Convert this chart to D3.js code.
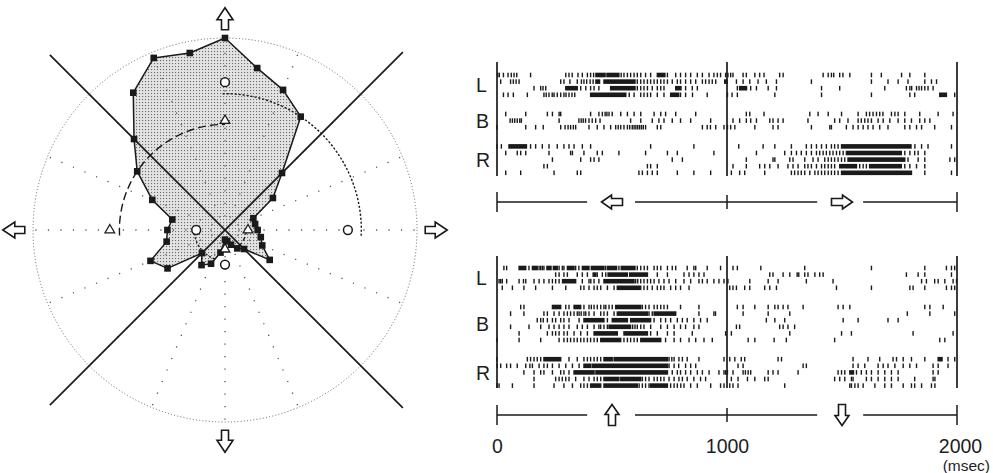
<!DOCTYPE html>
<html>
<head>
<meta charset="utf-8">
<script src="https://cdn.jsdelivr.net/npm/d3@7"></script>
<style>
  html, body { margin: 0; background: #fff; }
  svg { display: block; }
  text { font-family: "Liberation Sans", Arial, sans-serif; fill: #1e1e1e; }
</style>
</head>
<body>
<svg id="fig" width="993" height="473"></svg>
<script>
// ---------- Polar tuning (direction in degrees clockwise from up, normalized response) ----------
const tuningDirections = [0, 11.25, 22.5, 33.75, 45, 56.25, 67.5, 78.75, 90, 101.25, 112.5, 123.75,
  135, 146.25, 157.5, 168.75, 180, 191.25, 202.5, 213.75, 225, 236.25, 247.5, 258.75,
  270, 281.25, 292.5, 303.75, 315, 326.25, 337.5, 348.75];
const tuningResponse = [1.0, 0.86, 0.79, 0.71, 0.42, 0.30, 0.16, 0.16, 0.17, 0.19, 0.21, 0.28,
  0.14, 0.115, 0.083, 0.06, 0.05, 0.12, 0.19, 0.22, 0.17, 0.36, 0.42, 0.31,
  0.30, 0.28, 0.41, 0.55, 0.67, 0.86, 0.97, 0.94];

// four cardinal test directions
const cardinalDirections = [0, 90, 180, 270];
const circleResponse = [0.77, 0.64, 0.18, 0.15];
const triangleResponse = [0.57, 0.12, 0.10, 0.60];

// summary arcs: radius, start and end direction
const arcNames = ["circleMain", "triangleMain", "circleSmall", "triangleSmall"];
const arcRadius = [0.71, 0.55, 0.16, 0.11];
const arcStart = [-1, 267, 200, 92];
const arcEnd = [93, 360, 262, 150];

// boundary lines through the origin
const boundaryDirections = [45, 135];

// ---------- Spike rasters (ms); a pair [a, b] is a dense burst ----------
const timeTicks = [0, 1000, 2000];
const groupNames = ["L", "B", "R"];

const horizL = [
  [3, 10, 28, 48, 62, 74, 86, 146, 299, 313, 327, 352, 371, 393, 407, 420, [430, 470], [478, 530], 540, 552, 567, 581, 596, 610, 625, 646, 668, [697, 730], 741, 777, 798, 820, 842, 871, 893, 922, 943, 958, 972, 994, 1004, 1016, 1026, 1070, 1084, 1121, 1142, 1161, 1229, 1244, 1418, 1440, 1454, 1464, 1490, 1504, 1534, 1628, 1671, 1759, 1795, 1860],
  [16, 59, 71, 83, 96, 277, 291, 317, 349, 367, 378, 390, 405, 418, [430, 446], [465, 600], 610, 625, 639, 654, 668, 683, 697, 712, 726, 741, 762, 784, 798, 820, 842, 864, 893, 907, 922, 936, 951, [990, 1000], 1041, 1070, 1099, 1135, 1171, 1215, 1367, 1628, 1700, 1744, 1787, 1860, 1889, 1911],
  [161, 190, 200, 212, [299, 349], 364, 386, 407, 422, 443, [494, 600], 610, 625, 639, 654, 675, 697, 712, 726, [777, 800], 820, 849, 871, 1045, [1055, 1085], 1103, 1128, 1179, 1215, 1411, 1490, 1686, 1780, 1795, 1803, 1824, 1835, 1846, 1860, 1874, 1896],
  [28, 48, 71, 132, 204, 214, 226, 240, 248, 262, 277, 291, 300, 313, 326, 338, [407, 560], 575, 596, 625, 639, 654, 668, 697, 726, [755, 790], 798, 820, 850, 914, 1002, 1022, 1045, 1208, 1411, 1628, 1795, 1816, [1925, 1954], 1990]
];
const horizB = [
  [38, 125, 219, 241, 270, 277, 407, 443, 458, 470, 478, 487, 501, 538, 567, 596, 625, 683, 712, 733, 777, 864, 1084, 1099, 1161, 1360, 1396, 1440, 1498, 1570, 1606, 1620, 1635, 1650, 1664, 1678, 1715, 1730, 1744, 1773, 1838, 1918, 1983],
  [57, 67, 77, 88, 99, 106, 270, 356, 366, 375, 385, 400, 414, 429, 448, 581, 625, 675, 704, 726, 762, 798, 842, 929, 1026, 1055, 1084, 1103, 1128, 1186, 1200, 1222, 1244, 1352, 1468, 1490, 1526, 1570, 1584, 1599, 1613, 1628, 1657, 1679, 1708, 1744, 1773, 1802, 1838, 1860, 1882],
  [0, 125, 168, 201, 277, 296, 309, 320, 332, 342, 400, 436, 465, 494, 516, 527, 538, 552, 567, 577, 588, 596, 604, 612, 620, 628, 636, 646, 697, 712, 893, 914, 928, 951, 987, 1002, 1016, 1034, 1121, 1200, 1222, 1367, 1447, 1454, 1519, 1548, 1570, 1592, 1613, 1635, 1664, 1700, 1773, 1795, 1824, 1846, 1903, 1976]
];
const horizR = [
  [0, 19, [52, 128], 146, 168, 197, 226, 262, 291, 313, 335, 371, 407, 668, 856, 1051, 1157, 1208, 1280, 1345, 1367, 1389, 1411, 1432, 1454, 1468, 1483, [1498, 1800], 1817, 1846, 1874, 1976],
  [38, 88, 103, 125, 226, 320, 328, 378, 436, 458, 530, 646, 741, 784, 943, 1128, 1251, 1280, 1302, 1323, 1345, 1367, 1389, 1403, 1418, 1432, 1447, 1461, 1476, 1490, 1505, [1519, 1758], 1773, 1795, 1816, 1831, 1860],
  [241, 364, 407, 422, 443, 762, 806, 1084, 1200, 1208, 1273, 1287, 1338, 1374, 1396, 1425, 1440, 1454, 1468, 1483, 1498, 1512, [1526, 1773], 1787, 1831, 1860, 1969, 1990],
  [204, 219, 654, 668, 697, 1026, 1084, 1142, 1164, 1186, 1222, 1265, 1287, 1309, 1338, 1352, 1367, 1389, 1411, 1425, 1440, 1454, 1468, [1490, 1563], 1577, 1592, 1606, [1620, 1758], 1773, 1795, 1824, 1860],
  [38, 103, 248, 349, 364, 617, 632, 654, 675, 697, 784, 856, 929, 1019, 1055, 1077, 1164, 1280, 1294, 1309, 1323, 1338, 1360, 1382, 1396, 1411, 1425, 1440, 1454, 1468, 1483, [1498, 1802], 1860, 1976]
];

const vertL = [
  [30, 42, [96, 125], 139, [154, 175], 183, 190, 197, 204, [217, 235], [245, 262], 270, 284, 291, [306, 335], 342, 356, [371, 400], [410, 465], 472, [480, 520], 530, [540, 600], 610, 625, 640, 654, 683, 697, 712, 741, 762, 777, 827, 856, 864, 914, 972, 1026, 1045, 1147, 1338, 1628, 1860, 1954, 1976, 1990],
  [255, 270, 291, 306, 349, 371, 393, [418, 430], 436, 458, 473, [483, 567], [577, 654], 697, 741, 813, 835, 856, 878, 900, 1186, 1200, 1244, 1273, 1305, 1312, 1338, 1352, 1382, 1403, 1418, 1780, 1831, 1860, 1976],
  [9, 16, 23, 42, 96, 115, 125, 161, 183, 204, 226, 241, 255, 270, [285, 342], 371, 400, 408, 422, 443, [465, 596], 603, 612, 625, 639, 654, 668, 683, 704, 726, 748, 777, 813, 842, 878, 893, 914, 943, 965, 987, 1004, 1099, 1179, 1222, 1345, 1461, 1846, 1867, 1903, 1918, 1947, 1983, 1998],
  [23, 67, 117, 168, 241, 299, 364, 378, 400, 422, 436, 451, 480, 509, [523, 625], 639, 654, 675, 697, 712, 726, 755, 777, 798, 835, 1012, 1026, 1041, 1077, 1099, 1164, 1186, 1215, 1476, 1628, 1795, 1809, 1860, 1954, 1976, 1990]
];
const vertB = [
  [103, 117, [241, 277], 299, 313, [335, 364], 378, 400, 410, 422, 436, 451, 465, 473, 487, 501, [516, 625], 632, 646, 661, 683, 697, 712, 726, 741, 798, 878, 1045, 1070, 1121, 1179, 1208, 1222, 1244, 1265, 1331, 1483, 1505, 1534, 1860, 1882, 1940],
  [59, 117, 204, 219, 248, 270, 291, 306, 320, 335, 349, 357, 366, 378, 386, 400, 422, 451, 465, 480, 509, [523, 654], 661, 675, [683, 777], 878, 943, 950, 1070, 1179, 1273, 1784, 1882, 1990],
  [175, 190, 201, 219, 241, 255, 277, 291, 313, 357, [378, 465], 480, [501, 567], [581, 668], 683, 712, 733, 755, 784, 806, 827, 856, 885, 914, 1171, 1208, 1251, 1505, 1570, 1700, 1744],
  [59, 139, 190, 226, 248, 270, 291, 313, 349, 371, 393, 422, 443, 451, 465, 480, [487, 581], 590, 600, 610, 625, 639, 668, 712, 741, 770, 798, 820, 856, 878, 1041, 1055, 1229, 1244, 1265, 1294],
  [96, 219, 241, 255, 270, 291, 306, 335, 364, 393, [422, 523], [552, 654], 668, 697, 741, 770, 849, 994, 1019, 1273, 1498, 1541, 1809, 1983],
  [0, 96, 190, 270, 291, 306, 320, 335, 349, 364, 378, 393, 407, 422, 436, [451, 538], 552, 567, 581, 596, 610, [625, 712], 733, 770, 798, 835, 864, 900, 936, 1092, 1121, 1205, 1258, 1468, 1925, 1947]
];
const vertR = [
  [0, 132, 146, 161, 175, 190, [204, 277], 313, 349, 378, 393, 407, 422, 436, 451, [465, 501], [509, 741], 748, 760, 770, 791, 806, 827, 878, 987, 1012, 1034, 1062, 1077, 1222, 1237, 1548, 1613, 1664, 1722, 1737, 1766, 1802, 1860, [1918, 1935], 1961, 1990],
  [1, 16, 42, 59, 88, 125, 143, 154, 183, 204, 219, 241, 270, 299, 328, 357, [378, 407], [414, 741], 748, 770, 790, 820, 842, 864, 1048, 1070, 1331, 1345, 1548, 1570, 1599, 1657, 1679, 1700, 1730, 1766, 1795, 1824, 1896, 1918, 1961],
  [117, 161, 190, 204, 241, 277, 291, 313, [335, 422], [430, 741], 762, 784, 798, 820, 842, 871, 893, 922, 965, 987, 994, 1002, 1026, 1070, 1080, 1092, 1103, 1179, 1200, 1222, 1309, 1483, 1498, 1512, [1534, 1550], 1563, 1584, 1606, 1628, 1657, 1686, 1715, 1744, 1896, 1918],
  [161, 255, 270, 284, 299, 313, 342, 378, 400, 422, 436, 451, [465, 530], [538, 625], 632, 646, 661, 683, 697, 712, 726, 748, 770, 791, 806, 827, 856, 885, 907, 1019, 1048, 1089, 1121, 1164, 1179, 1468, 1490, 1512, 1541, 1548, 1606, 1628, 1657, 1686, 1715, 1744, 1816, 1896, 1904],
  [0, 9, 67, 161, 248, 291, 328, 364, 378, 393, [407, 451], [465, 610], 618, 632, 646, 661, [668, 741], 755, 770, 784, 799, 813, 842, 871, 929, 972, 987, 1012, 1026, 1048, 1251, 1534, 1541, 1556, 1570, 1592, 1643, 1686, 1715, 1766, 1802, 1816, 1846, 1889, 1904]
];

// stimulus direction shown under each half of the trial (ms, direction)
const horizCueTimes = [500, 1500];
const horizCueDirs = [270, 90];
const vertCueTimes = [500, 1500];
const vertCueDirs = [0, 180];

// ======================= drawing =======================
const svg = d3.select("#fig");
const ink = "#1a1a1a";

// stipple fill for the tuning polygon
const defs = svg.append("defs");
const pat = defs.append("pattern").attr("id", "stipple")
  .attr("width", 3).attr("height", 3).attr("patternUnits", "userSpaceOnUse");
pat.append("rect").attr("width", 3).attr("height", 3).attr("fill", "#e3e3e3");
pat.append("rect").attr("x", 1).attr("y", 1).attr("width", 1.1).attr("height", 1.1).attr("fill", "#6a6a6a");

// block arrow pointing up, centred at the origin
function blockArrow(len, headLen, headW, shaftW) {
  const t = -len / 2, hb = t + headLen, b = len / 2;
  const p = d3.path();
  p.moveTo(0, t); p.lineTo(headW / 2, hb); p.lineTo(shaftW / 2, hb); p.lineTo(shaftW / 2, b);
  p.lineTo(-shaftW / 2, b); p.lineTo(-shaftW / 2, hb); p.lineTo(-headW / 2, hb); p.closePath();
  return p.toString();
}

// ---------- polar panel ----------
const cx = 225, cy = 230;
const r = d3.scaleLinear().domain([0, 1]).range([0, 192]);
const rad = d => d * Math.PI / 180;
const polar = svg.append("g").attr("transform", `translate(${cx},${cy})`);
const pos = (deg, v) => [r(v) * Math.sin(rad(deg)), -r(v) * Math.cos(rad(deg))];

const tuning = tuningDirections.map((d, i) => ({ dir: d, v: tuningResponse[i] }));
const radialLine = d3.lineRadial().angle(d => rad(d.dir)).radius(d => r(d.v)).curve(d3.curveLinearClosed);

polar.append("path").attr("d", radialLine(tuning)).attr("fill", "url(#stipple)");

// dotted polar grid
const gridDirs = d3.range(0, 360, 22.5);
polar.selectAll("line.spoke").data(gridDirs).join("line").attr("class", "spoke")
  .attr("x1", d => pos(d, 0.07)[0]).attr("y1", d => pos(d, 0.07)[1])
  .attr("x2", d => pos(d, 0.99)[0]).attr("y2", d => pos(d, 0.99)[1])
  .attr("stroke", "#555").attr("stroke-width", 1.3).attr("stroke-dasharray", "1.2,11.3");
polar.append("circle").attr("r", r(1)).attr("fill", "none")
  .attr("stroke", "#666").attr("stroke-width", 1).attr("stroke-dasharray", "1,2.2");

// boundary lines
boundaryDirections.forEach(d => {
  const a = pos(d, 1.31), b = pos(d + 180, 1.29);
  polar.append("line").attr("x1", a[0]).attr("y1", a[1]).attr("x2", b[0]).attr("y2", b[1])
    .attr("stroke", ink).attr("stroke-width", 1.7);
});

// tuning outline and markers
polar.append("path").attr("d", radialLine(tuning)).attr("fill", "none")
  .attr("stroke", ink).attr("stroke-width", 1.5).attr("stroke-linejoin", "round");
polar.selectAll("rect.pt").data(tuning).join("rect").attr("class", "pt")
  .attr("x", d => pos(d.dir, d.v)[0] - 3.3).attr("y", d => pos(d.dir, d.v)[1] - 3.3)
  .attr("width", 6.6).attr("height", 6.6).attr("fill", ink);

// summary arcs
const arcDash = { circleMain: "2.2,1.8", triangleMain: "8,4", circleSmall: "2,2", triangleSmall: "4,2.5" };
arcNames.forEach((n, i) => {
  const p = d3.path();
  p.arc(0, 0, r(arcRadius[i]), rad(arcStart[i] - 90), rad(arcEnd[i] - 90));
  polar.append("path").attr("d", p.toString()).attr("fill", "none")
    .attr("stroke", ink).attr("stroke-width", 1.4).attr("stroke-dasharray", arcDash[n]);
});

// open circles and triangles
cardinalDirections.forEach((d, i) => {
  const c = pos(d, circleResponse[i]);
  polar.append("circle").attr("cx", c[0]).attr("cy", c[1]).attr("r", 4.4)
    .attr("fill", "#fff").attr("stroke", ink).attr("stroke-width", 1.5);
  const t = pos(d, triangleResponse[i]);
  polar.append("path").attr("d", d3.symbol(d3.symbolTriangle, 40)())
    .attr("transform", `translate(${t[0]},${t[1]})`)
    .attr("fill", "#fff").attr("stroke", ink).attr("stroke-width", 1.3);
});

// direction arrows
cardinalDirections.forEach(d => {
  const a = pos(d, 1.1);
  polar.append("path").attr("d", blockArrow(22, 12, 16, 7))
    .attr("transform", `translate(${a[0]},${a[1]}) rotate(${d})`)
    .attr("fill", "#fff").attr("stroke", ink).attr("stroke-width", 1.6).attr("stroke-linejoin", "miter");
});

// ---------- raster panels ----------
const x = d3.scaleLinear().domain([0, 2000]).range([497, 957]);
const rowStep = 6.6, groupGap = 12.6, tickH = 4.6;

function raster(groups, firstRow, frameTop, frameBottom, axisY, cueTimes, cueDirs, showLabels) {
  const g = svg.append("g");
  let k = 0;
  groups.forEach((rows, gi) => {
    const ys = rows.map((_, ri) => firstRow + (k + ri) * rowStep + gi * groupGap);
    const mid = (ys[0] + ys[ys.length - 1]) / 2;
    g.append("text").attr("x", 476).attr("y", mid + 7.5).attr("font-size", 19.5).text(groupNames[gi]);
    rows.forEach((row, ri) => {
      const y = ys[ri];
      row.forEach(s => {
        if (Array.isArray(s)) {
          g.append("rect").attr("x", x(s[0]) - 0.7).attr("y", y - tickH / 2)
            .attr("width", x(s[1]) - x(s[0]) + 1.4).attr("height", tickH).attr("fill", ink);
        } else {
          g.append("rect").attr("x", x(s) - 0.7).attr("y", y - tickH / 2)
            .attr("width", 1.4).attr("height", tickH).attr("fill", ink);
        }
      });
    });
    k += rows.length;
  });
  // trial frame lines at 0, 1000, 2000 ms
  g.selectAll("line.frame").data(timeTicks).join("line").attr("class", "frame")
    .attr("x1", d => x(d)).attr("x2", d => x(d)).attr("y1", frameTop).attr("y2", frameBottom)
    .attr("stroke", ink).attr("stroke-width", 1.7);

  // time axis, interrupted by the stimulus arrows
  const segs = [[0, 392], [600, 1392], [1592, 2000]];
  segs.forEach(s => g.append("line").attr("x1", x(s[0])).attr("x2", x(s[1]))
    .attr("y1", axisY).attr("y2", axisY).attr("stroke", ink).attr("stroke-width", 1.5));
  timeTicks.forEach(t => {
    const h = t === 1000 ? 7 : 10;
    g.append("line").attr("x1", x(t)).attr("x2", x(t)).attr("y1", axisY - h).attr("y2", axisY + h)
      .attr("stroke", ink).attr("stroke-width", 1.5);
  });
  cueTimes.forEach((t, i) => {
    g.append("path").attr("d", blockArrow(21, 10, 14, 7))
      .attr("transform", `translate(${x(t)},${axisY}) rotate(${cueDirs[i]})`)
      .attr("fill", "#fff").attr("stroke", ink).attr("stroke-width", 1.6);
  });
  if (showLabels) {
    const ax = g.append("g").attr("transform", `translate(0,${axisY + 21})`)
      .call(d3.axisBottom(x).tickValues(timeTicks).tickSize(0).tickFormat(d3.format("d")));
    ax.select(".domain").remove();
    ax.selectAll("text").attr("font-size", 19.5).attr("font-family", "Liberation Sans, Arial, sans-serif")
      .attr("fill", "#1e1e1e").attr("dy", "0.71em");
    ax.selectAll(".tick").filter(d => d === 2000).select("text").attr("dx", 3);
    g.append("text").attr("x", 990).attr("y", axisY + 56).attr("text-anchor", "end")
      .attr("font-size", 15.5).text("(msec)");
  }
}

raster([horizL, horizB, horizR], 75, 62, 176, 202, horizCueTimes, horizCueDirs, false);
raster([vertL, vertB, vertR], 268, 256, 388, 415, vertCueTimes, vertCueDirs, true);
</script>
</body>
</html>
